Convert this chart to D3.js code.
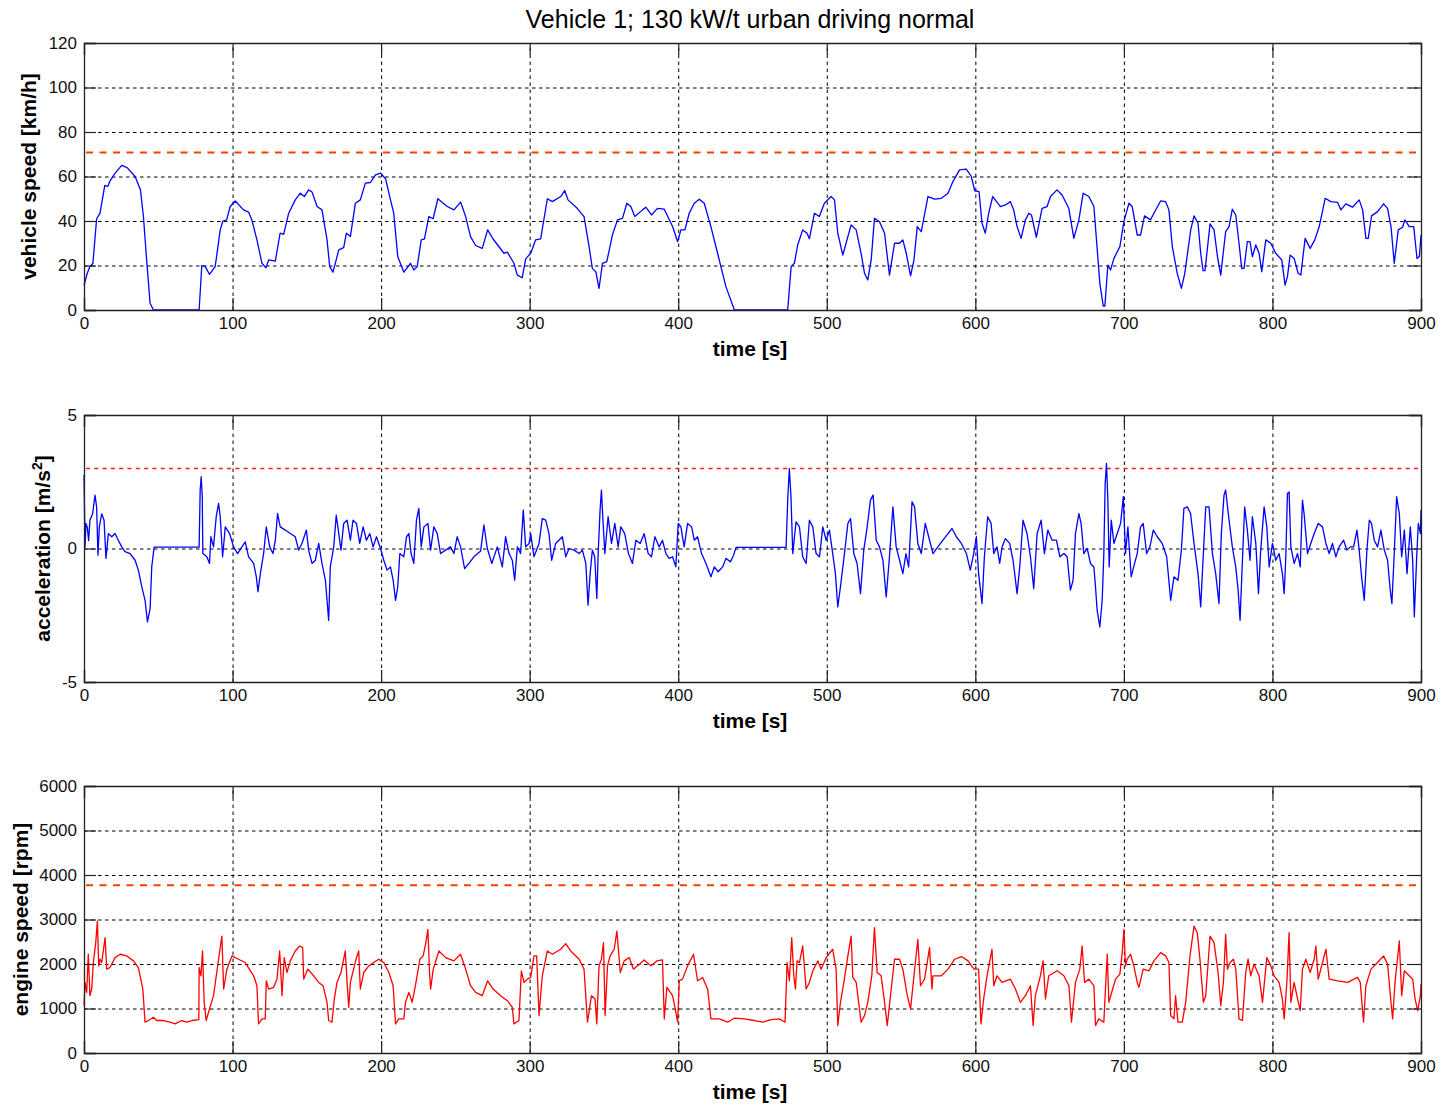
<!DOCTYPE html>
<html>
<head>
<meta charset="utf-8">
<script src="https://cdn.jsdelivr.net/npm/d3@7"></script>
<style>
  body { margin: 0; background: #fff; }
  svg { display: block; font-family: "Liberation Sans", Arial, sans-serif; }
  .tick text { font-size: 17px; fill: #111; }
  .axis-label { font-size: 21px; font-weight: bold; fill: #000; }
  .title { font-size: 25px; fill: #000; }
</style>
</head>
<body>
<div class="container"></div>
<script>
// time axis ticks (s)
const timeTicks = [0, 100, 200, 300, 400, 500, 600, 700, 800, 900];

// vehicle speed [km/h]
const speedTicks = [0, 20, 40, 60, 80, 100, 120];
const speedLimit = 70.8;
const speedTime = [0, 2.2, 4, 6, 8.5, 10.8, 14, 16, 17.5, 21, 25.4, 29, 34.4, 38, 40, 42, 44.5, 46.7,
  77.5, 79.3, 81.6, 84.5, 88.3, 91.7, 93.5, 96, 98.4, 101.8, 107.4, 110.8, 113, 116.4, 119.8, 122.5,
  124.3, 128.8, 132, 134.4, 137.8, 142.2, 145.6, 148.3, 151.2, 153.5, 156.9, 160.2, 163.6, 165.4,
  167.6, 171.5, 174.8, 176.6, 179.3, 182.7, 186, 189.4, 192.8, 196.2, 199.6, 203, 206.3, 208.5,
  211.2, 215.3, 219.8, 222, 224.3, 227, 229.2, 232.1, 235, 238.2, 244.5, 249, 253.5, 256.9, 260.2,
  263.6, 268.1, 271.7, 275.5, 282.7, 285, 289.4, 291.7, 295, 297.3, 300.7, 304, 307.4, 311.9, 315.3,
  320.9, 323.6, 325.8, 332, 336.6, 340, 342.2, 344.5, 346.7, 349, 351.9, 355.7, 359.1, 362.5, 365.4,
  368.1, 370.8, 376, 378.2, 382, 386, 390.6, 396.2, 399.6, 401.8, 404.5, 407.4, 410.8, 414.2, 417.5,
  422, 426.5, 432.1, 437.8, 473.7, 476, 478.2, 480.4, 483.8, 486.7, 488.3, 491.7, 495, 498.4, 502.9,
  505.2, 507.4, 510.8, 514.2, 516.4, 519.8, 523.1, 525.4, 527.6, 529.9, 532.1, 535.5, 538.9, 542.2,
  545.6, 549, 551.2, 553.5, 556.4, 558.7, 560.9, 563.6, 568.1, 572.6, 577.1, 581.6, 584.9, 589.4,
  593.9, 597.3, 599.6, 602.5, 604.5, 606.7, 609, 611.7, 616.9, 620.2, 623.6, 625.8, 628.1, 630.8,
  633.7, 636, 637.8, 641.1, 644.9, 648.3, 650.6, 655, 658.4, 662.9, 666.3, 669.7, 672.6, 676.4,
  679.8, 682, 683.8, 686.1, 687.2, 689.2, 691, 693.3, 697.3, 700, 703.4, 705.6, 709, 711.2, 713.9,
  717.9, 720.2, 724.7, 728.1, 730.3, 732.6, 735.9, 738.7, 741, 745, 747.2, 749.9, 751.7, 753.3,
  754.6, 758, 760.7, 763, 765.2, 768.5, 770.8, 773, 775.3, 777.5, 779.3, 780.9, 783.1, 784.9, 786.5,
  788.8, 791, 792.8, 795.5, 798.9, 802.2, 806.3, 808.5, 810.1, 811.9, 814.6, 817.3, 819.1, 822,
  825.4, 828.5, 831.5, 835.5, 839.3, 843.8, 846.1, 849.4, 853.9, 858.4, 860.7, 862.9, 864.5, 866.7,
  870.8, 874.8, 877.5, 879.8, 882, 884.7, 887.6, 889.2, 892.1, 895.1, 897.3, 898.9, 900];
const speedKmh = [11, 16.5, 19.5, 21, 41, 43.5, 56, 55.5, 58, 61.5, 65, 64, 60, 54, 42, 24, 3, 0,
  0, 20, 19.5, 16, 19.5, 36, 40, 40.5, 46.5, 49, 45, 44, 40.5, 31.5, 21, 19,
  22.5, 22, 34.5, 34, 43.5, 49.5, 52.5, 51, 54, 53, 46.5, 45, 31.5, 19.5,
  17, 27, 28, 34.5, 33, 48, 49.5, 57, 57.3, 60.7, 61.5, 59, 49.5, 43.5,
  24, 17, 21, 18, 19.5, 31.5, 32, 42, 41, 50, 46.5, 45, 48.5, 42, 33,
  29, 27.7, 36, 31.8, 25.5, 26, 21, 15.7, 14.5, 23, 25.5, 31.5, 32, 50, 48.7,
  51, 53.7, 49.5, 45.7, 42, 28.5, 18.7, 17.2, 9.7, 21, 21.7, 33.7, 40.5, 41.2, 48,
  46.5, 42, 45, 46.2, 42.7, 45.7, 45.3, 37.5, 30.7, 36, 36, 43.5, 48, 49.8, 48,
  37.5, 25.5, 10.5, 0, 0, 19.5, 21, 29.2, 36, 34.5, 32, 43.5, 42, 48, 51,
  49.5, 34.5, 24.7, 33, 38.2, 36, 25.5, 16.5, 13.5, 22.5, 41.2, 39.7, 34.5, 15.7,
  30, 30, 31.5, 25.5, 15.3, 22.5, 37.5, 35.2, 51, 49.8, 50.2, 52.5, 57.7, 63,
  63.3, 60, 53.6, 53.2, 39, 34.5, 43.5, 51, 46.5, 47.2, 48.7, 45, 37.5, 32.2,
  40.5, 43.5, 42.7, 32.7, 45.7, 46.5, 51, 54, 51.7, 45.7, 32.2, 40.5, 52.5, 51,
  46.5, 27.7, 12, 1.8, 1.8, 20.2, 18, 23.2, 28.5, 39.7, 48, 46.5, 33.7, 33.7, 42.3,
  40.5, 43.5, 49, 48.7, 45, 28.5, 16.5, 9.7, 16.5, 36, 42.3, 39, 25.5, 17.7,
  17.7, 38.7, 36, 24, 15.7, 35.2, 37.5, 45.3, 42.7, 30, 18.7, 18.7, 30.7, 30.7, 24,
  29.2, 25.5, 17.2, 31.5, 30, 25.5, 22.5, 11.2, 15, 24.7, 23.2, 16.5, 15.7, 32.2,
  27.7, 31.5, 37.5, 50.2, 48.7, 48.4, 45, 47.7, 46.2, 49.5, 45, 32.2, 32.2, 42.3,
  44.2, 47.7, 45.7, 37.5, 21, 36, 37.2, 40.5, 37.5, 37.5, 23.2, 24, 33.7];

// acceleration [m/s^2]
const accTicks = [-5, 0, 5];
const accLimit = 3;
const accTime = [0, 0.7, 1.3, 2.2, 3.1, 4, 5.8, 7.4, 8.5, 9.4, 10.3, 11.9, 13.5, 14.8, 16.4, 18.7,
  20.9, 23.1, 25.4, 27.6, 31, 34.4, 36.6, 38.9, 41.1, 42.7, 44.5, 45.6, 47.2, 77.5, 78.2, 78.9, 79.6,
  80, 82.7, 84.5, 85.4, 87.2, 89, 90.6, 91.7, 93.3, 95.1, 98, 100.7, 103.4, 106.3, 108.5, 110.8,
  114.2, 116, 117.1, 118.7, 120.9, 122.7, 125, 127.2, 128.8, 130.3, 132.1, 135.5, 138.9, 142.2,
  144.5, 146.7, 149.7, 151.2, 153.5, 155.7, 158, 160.2, 162.5, 163.6, 164.7, 165.8, 168.1, 169.8,
  171.5, 173, 174.8, 177.1, 179.3, 181.1, 183.4, 185.6, 187.9, 190.1, 192.4, 194.6, 196.9, 199.6,
  201.8, 204, 206.3, 208.1, 209.7, 211.2, 212.6, 215.3, 217.1, 218.7, 220.2, 222, 223.8, 225.4,
  227, 228.8, 231.5, 233.3, 235.5, 237.8, 240, 243.4, 246.7, 249, 251.2, 253.5, 256.2, 259.1,
  262.5, 267, 269.2, 271.5, 274.5, 278.2, 281.6, 283.8, 286.1, 288.3, 289.9, 291.7, 293.9, 295.7,
  297.3, 299.6, 300.7, 302.9, 306.3, 308.5, 310.8, 313, 314.8, 317.5, 322, 324.3, 326.5, 329.9,
  333.3, 335.5, 337.8, 339.3, 340.7, 342.2, 343.8, 345.2, 346.1, 347.4, 348.3, 349.2, 350.6, 352.8,
  355.1, 357.3, 359.6, 361.3, 364, 366.5, 369.2, 371.5, 374.4, 377.1, 379.8, 382, 384.3, 387.2,
  389.4, 391.7, 393.9, 396.2, 398.4, 400, 401.8, 404, 406.3, 409, 410.8, 413, 415.7, 418.7, 422,
  424.3, 426.9, 429.9, 432.1, 435.1, 437.3, 438.9, 472.6, 473.7, 474.8, 475.9, 477.1, 479.3, 481.6,
  483.8, 486.1, 488.3, 490.6, 492.8, 495.1, 497.3, 499.6, 501.8, 504, 505.8, 507.4, 509.2, 511.9,
  514.2, 516, 518.2, 520.4, 522.7, 524.9, 527.2, 529.4, 531.2, 533.3, 535.5, 537.8, 540, 542.2,
  544.5, 546.7, 549, 551.2, 553.3, 555.1, 557.4, 559.1, 561.3, 563.6, 566.3, 569.2, 571.5, 574.8,
  578.2, 581.6, 584.3, 587.2, 590.6, 594, 596.6, 598.9, 600.7, 602.2, 604.5, 606.1, 608.3, 610.6,
  612.4, 614.6, 616.4, 618, 620.2, 623.1, 625.4, 628.1, 629.9, 632.1, 634.8, 637.1, 639.3, 641.6,
  644.3, 646.5, 648.8, 651.7, 654.6, 656.9, 659.6, 661.8, 664, 665.8, 667.4, 669.7, 671.2, 673,
  675.3, 677.5, 679.8, 680.9, 682, 683.8, 685.4, 686.5, 687.4, 688.3, 689.2, 690.1, 691.5, 693.3,
  695.5, 697.8, 699.6, 701.1, 702.7, 704.9, 707.2, 709, 711.2, 713, 715.3, 717.5, 719.8, 722.5,
  725.8, 728.8, 731.5, 733.7, 736.4, 738.7, 740.4, 742.7, 744.9, 747.2, 749.9, 751.7, 753.5, 755.1,
  757.3, 759.6, 761.8, 764, 765.6, 767.4, 768.5, 770.8, 773, 775.3, 776.9, 778.2, 779.8, 781.3,
  783.1, 784.9, 786.5, 788.8, 790.6, 792.1, 794.4, 796.2, 797.8, 800, 802.2, 804.5, 806.7, 807.9,
  809, 810.1, 811.2, 812.4, 814.6, 816.9, 818.7, 820.2, 821.3, 823.6, 825.8, 828.1, 830.8, 833.7,
  836, 838.2, 840.4, 842.7, 844.9, 847.9, 850.1, 852.4, 854.6, 856.9, 858.4, 860, 861.8, 863.6,
  865.2, 866.7, 868.5, 870.8, 873, 875.3, 877.5, 879.3, 880.4, 882, 883.6, 885.4, 887, 888.8, 890.6,
  892.8, 894.4, 895.5, 897.1, 898.2, 899.6, 900];
const accMs2 = [2.75, 0.06, 0.94, 0.8, 0.3, 1.06, 1.3, 2.0, 1.56, -0.25, 0.8, 1.3, 1.06, -0.37, 0.56, 0.44,
  0.56, 0.31, 0.06, -0.12, -0.19, -0.44, -0.81, -1.44, -1.94, -2.75, -2.25, -0.69, 0.05, 0.05, 2.19, 2.69, 1.94,
  -0.19, -0.31, -0.56, 0.44, 0.06, 1.19, 1.69, 1.19, -0.31, 0.81, 0.56, 0.06, -0.19, 0.06, 0.25, -0.31,
  -0.56, -1.06, -1.62, -0.94, -0.19, 0.81, 0.06, -0.19, 0.31, 1.31, 0.81, 0.69, 0.56, 0.44,
  -0.06, 0.19, 0.69, -0.06, -0.56, -0.44, 0.19, -0.56, -1.19, -1.94, -2.69, -0.69, 0.06, 1.25,
  0.56, -0.06, 0.94, 1.06, 0.31, 1.06, 0.94, 0.19, 0.81, 0.31, 0.56, 0.06, 0.44, 0,
  -0.44, -0.81, -0.69, -1.19, -1.94, -1.44, -0.19, -0.31, 0.44, 0.56, -0.19, -0.56, 1.06, 1.5,
  0.06, 0.81, 0.94, -0.06, 0.81, 0.56, -0.19, -0.06, 0.06, -0.19, 0.44, 0.06, -0.75, -0.56,
  -0.31, -0.09, 0.88, 0.0, -0.56, 0.06, -0.69, 0.44, -0.19, -0.44, -1.19, 0.06, -0.19, 1.44,
  0.06, 0.19, 0.56, -0.31, 0.19, 1.12, 1.06, 0.56, -0.44, 0.19, 0.44, -0.31, 0, -0.06,
  -0.19, -0.06, -0.56, -2.12, -0.94, -0.06, -0.31, -1.87, -0.19, 1.44, 2.19, 1.19, -0.19, 1.19,
  0.19, 0.94, 0.06, 0.81, 0.56, -0.19, -0.56, 0.31, 0.19, 0.56, -0.19, -0.31, 0.44, 0.06,
  0.31, -0.19, -0.37, -0.31, -0.69, 0.94, 0.81, 0.06, 0.94, 0.81, 0.31, 0.44, -0.19, -0.56, -1.06,
  -0.69, -0.87, -0.69, -0.37, -0.5, -0.25, 0.04, 0.04, 1.81, 3.0, 1.94, -0.19, 1.0, 0.81,
  -0.31, -0.56, 1.06, 0.81, -0.19, -0.31, 0.81, 0.31, 0.69, -0.19, -0.94, -2.19, -1.44, -0.19,
  0.94, 1.12, -0.19, -0.56, -1.69, -0.06, 0.81, 1.81, 2.0, 0.31, 0.06, -0.44, -1.81, -0.31,
  1.56, 0.06, -0.44, -0.94, -0.19, -0.69, 1.75, 1.56, 0.19, -0.19, 0.94, 0.31, -0.19, 0.06,
  0.31, 0.56, 0.75, 0.44, 0.19, -0.19, -0.81, -0.19, 0.44, -0.94, -2.06, -0.31, 1.19, 0.94,
  -0.19, 0.06, -0.56, 0.06, 0.37, 0.19, -0.44, -1.69, -0.69, 1.06, 0.56, -0.31, -1.5, 0.56,
  1.06, -0.19, 0.69, 0.31, 0.31, -0.31, -0.19, -0.31, -1.56, -1.19, 0.56, 1.31, 0.94, -0.19,
  0, -0.56, -0.69, -1.44, -2.31, -2.94, -1.94, -0.19, 2.44, 3.19, 1.81, -0.69, 1.06, 0.19,
  0.56, 0.94, 1.94, -0.19, 0.81, -1.06, -0.56, -0.19, 0.81, 0.94, -0.19, 0.06, 0.69, 0.44,
  0.19, -0.31, -1.94, -1.06, -1.19, -0.06, 1.5, 1.56, 1.31, 0.19, -0.94, -2.19, -0.19, 1.56,
  1.56, -0.19, -0.94, -2.06, 0.56, 2.0, 2.19, 1.06, 0.06, -0.69, -1.56, -2.69, -0.44, 1.56,
  0.69, -0.44, 1.19, 0.19, -1.69, -0.06, 1.56, 0.81, -0.69, 0.19, -0.44, -0.19, -0.94, -1.69,
  -0.31, 2.06, 2.12, 0.06, -0.56, -0.19, -0.69, 1.81, 1.31, -0.19, 0.19, 0.56, 0.94, 0.81,
  0.19, -0.19, 0.19, -0.31, 0.06, 0.31, -0.06, 0.06, 0.06, 0.69, -0.06, -1.06, -1.94, -0.06,
  1.06, 0.94, 0.31, 0.06, 0.69, -0.06, -0.44, -1.56, -2.06, -0.19, 1.94, 1.31, -0.31, 0.69, -0.94,
  0.81, -0.44, -2.56, -0.31, 0.94, 0.56, 1.44];

// engine speed [rpm]
const rpmTicks = [0, 1000, 2000, 3000, 4000, 5000, 6000];
const rpmLimit = 3770;
const rpmTime = [0, 0.7, 1.8, 2.9, 4, 5.2, 6.3, 7.9, 9, 9.9, 10.8, 11.9, 14.2, 15.3, 17.5, 20.9, 24.3,
  28.8, 33.3, 36.6, 39.6, 41.1, 43.4, 46.7, 49, 53.5, 58, 61.3, 65.8, 69.2, 72.6, 77.3, 77.5, 78.7,
  79.8, 80.9, 82.2, 84.5, 87.2, 90.6, 92.8, 94, 96.2, 99.6, 104, 108.5, 114.2, 116.4, 117.5, 119.8,
  122, 122.7, 124.3, 127.6, 129.9, 131.7, 133.3, 134.8, 136.6, 138.9, 142.2, 145.2, 147.2, 147.9,
  150.6, 154.6, 158, 160.9, 163.6, 164.7, 166.9, 168.5, 170.3, 173, 175.9, 177.1, 178.2, 179.3,
  183.4, 184.9, 186, 188.3, 191.7, 195, 198.4, 201.8, 205.2, 208.1, 209.7, 211.9, 215.3, 216.4,
  218.7, 220.9, 223.1, 226.1, 228.3, 229.9, 231.5, 232.6, 233.3, 235.1, 238.9, 243.4, 249, 253.5,
  256.9, 260.2, 263.6, 268.1, 271.7, 275.4, 280.4, 285, 288.3, 289.4, 292.8, 294.4, 296.2, 298.4,
  300.7, 302.9, 304.7, 306.3, 308.5, 311.9, 315.3, 320.9, 324.3, 327.6, 333.3, 336.6, 338.9, 341.6,
  344, 345.2, 346.7, 348.3, 349.7, 350.8, 352.4, 354.2, 356.9, 358.7, 361, 363.6, 367, 369.9, 372.6,
  377.1, 381.6, 385.6, 389.4, 390.6, 392.4, 396.2, 398.4, 399.6, 400.7, 402.9, 406.3, 410.3, 413,
  416.4, 419.8, 422, 427.6, 433.3, 437.8, 444.5, 451.2, 456.9, 462.5, 468.1, 471.9, 473.3, 474.8,
  476.4, 477.8, 478.9, 480, 481.6, 483.8, 486.1, 488.3, 490.6, 494, 496.2, 499.6, 504, 506.3, 507.4,
  509.2, 511.5, 514.2, 516.4, 517.5, 519.8, 523.1, 525.4, 527.6, 530.3, 532.1, 533.9, 536.6, 538.9,
  540.7, 542.9, 545.6, 549, 551.2, 554.2, 556.4, 558.7, 561.3, 563.1, 565.8, 569.2, 570.8, 571.5,
  577.1, 581.6, 586.1, 590.6, 595.1, 599.1, 602.2, 603.8, 605.6, 607.9, 611.2, 612.4, 614.6, 618,
  623.6, 627, 630.3, 633.7, 637.1, 638.9, 640.4, 643.8, 645.6, 647.2, 649.4, 655.1, 659.6, 663,
  664.7, 667.4, 670.3, 671.9, 673.5, 676.4, 679.8, 680.9, 683.1, 686.5, 687.6, 688.8, 689.9, 692.1,
  694.4, 697.3, 698.9, 700, 701.1, 702.2, 704.5, 706.7, 709, 710.1, 713, 716.9, 720.2, 724.7, 728.1,
  730.3, 731.5, 733.7, 734.8, 736.4, 739.3, 741.6, 744.5, 747.2, 749.4, 751.2, 753.5, 755.1, 758,
  760.7, 763.4, 765.2, 767, 768.5, 769.7, 771.5, 773.7, 775.3, 777.5, 779.8, 782, 783.6, 785.4,
  787.6, 791, 793.3, 796.2, 798.9, 801.1, 804.5, 806.7, 807.9, 809.7, 811.2, 812.4, 814.6, 816.9,
  818.7, 820.2, 822.5, 825.4, 828.1, 829.2, 830.8, 833.7, 836, 838.2, 843.8, 850.6, 857.3, 859.1,
  861.3, 862.9, 866.3, 870.8, 874.8, 877.5, 879.8, 880.9, 882.5, 885.4, 887, 888.8, 892.1, 894.4,
  896, 897.8, 899.6, 900];
const rpmVal = [1065, 1586, 1363, 2219, 1288, 1437, 2033, 2480, 2964, 1958, 2107, 2033, 2591, 1884, 1921, 2144, 2219,
  2182, 2070, 1921, 1437, 692, 730, 804, 730, 730, 692, 655, 730, 692, 730, 752, 1921, 1735,
  2293, 1139, 730, 990, 1288, 2107, 2628, 1437, 1884, 2182, 2107, 2033, 1735, 1512, 655, 767,
  767, 1623, 1437, 1474, 1660, 2293, 1288, 2144, 1809, 2070, 2293, 2405, 2368, 1660,
  1884, 1735, 1586, 1512, 1139, 730, 692, 1214, 1586, 1809, 2293, 1586, 1028, 1586,
  2144, 2293, 1437, 1809, 1958, 2033, 2107, 2033, 1809, 1512, 655, 767, 767, 1139,
  1363, 1139, 1512, 2107, 2182, 2442, 2777, 1809, 1437, 1884, 2293, 2144, 2070, 2219,
  1884, 1512, 1363, 1288, 1623, 1437, 1288, 1176, 1028, 655, 730, 1847, 1586, 1660,
  1698, 2182, 2182, 841, 1735, 2293, 2219, 2331, 2457, 2293, 2107, 1884, 692, 1288,
  1214, 655, 1958, 2107, 2480, 841, 1958, 2182, 2331, 2740, 1809, 2070, 2144, 1884, 1958,
  2092, 1958, 2070, 2092, 767, 1474, 1288, 916, 692, 1623, 1660, 1958, 2219, 1623,
  1698, 1437, 767, 767, 692, 782, 767, 730, 692, 752, 767, 692, 2033, 1623,
  2591, 1735, 1437, 2070, 2033, 2405, 1437, 1586, 1847, 2070, 1884, 2144, 2331, 1884, 618,
  1139, 1586, 2182, 2628, 1698, 1586, 692, 841, 1139, 1735, 2815, 1809, 1735, 1139,
  618, 1288, 2107, 2107, 1884, 1288, 990, 1735, 2554, 1512, 1660, 2368, 1437, 1735,
  1735, 1884, 2107, 2167, 2070, 1884, 1884, 655, 1214, 1735, 2331, 1512, 1735, 1586,
  1660, 1437, 1139, 1288, 1512, 618, 1288, 1735, 2070, 1214, 1735, 1847, 1735, 1512,
  692, 1586, 1884, 2405, 1586, 1660, 1512, 618, 767, 692, 1437, 2219, 1139, 1400,
  1660, 1772, 2256, 2777, 1958, 2107, 2219, 1958, 1586, 1474, 1884, 1847, 2070, 2256, 2182,
  2033, 841, 767, 1288, 692, 692, 1139, 2182, 2852, 2703, 2107, 1139, 1288, 2628,
  2480, 1809, 1065, 1586, 2666, 1884, 2033, 2107, 1884, 767, 730, 1809, 2107, 1735,
  1996, 1735, 1139, 2144, 1958, 1735, 1586, 1214, 767, 1586, 2703, 1139, 1586, 1214,
  953, 1884, 2107, 1809, 2107, 2405, 1660, 2033, 2331, 1660, 1623, 1586, 1698, 1586,
  692, 1512, 1884, 2033, 2182, 1996, 1139, 767, 1586, 2517, 1288, 1847, 1735, 1660,
  1214, 953, 1288, 1549];

const width = 1441;
const height = 1106;
const plotLeft = 84;
const plotRight = 1421;
const plotH = 267;

const panels = [
  { top: 43, domain: [0, 120], ticks: speedTicks, time: speedTime, values: speedKmh,
    color: "#0000ff", limit: speedLimit, limitColor: "#ff3c00", limitDash: "7,6.5", limitWidth: 2,
    label: "vehicle speed [km/h]", labelX: 29 },
  { top: 415, domain: [-5, 5], ticks: accTicks, time: accTime, values: accMs2,
    color: "#0000ff", limit: accLimit, limitColor: "#ff1a1a", limitDash: "4,4.3", limitWidth: 1.5,
    label: "acceleration", labelX: 43 },
  { top: 786, domain: [0, 6000], ticks: rpmTicks, time: rpmTime, values: rpmVal,
    color: "#ff0000", limit: rpmLimit, limitColor: "#ff3c00", limitDash: "7,6.5", limitWidth: 2,
    label: "engine speed [rpm]", labelX: 21 }
];

const svg = d3.select(".container")
  .append("svg")
  .attr("width", width)
  .attr("height", height);

svg.append("text")
  .attr("class", "title")
  .attr("x", 750)
  .attr("y", 28)
  .attr("text-anchor", "middle")
  .text("Vehicle 1; 130 kW/t urban driving normal");

const x = d3.scaleLinear().domain([0, 900]).range([plotLeft, plotRight]);

panels.forEach((p, i) => {
  const y = d3.scaleLinear().domain(p.domain).range([p.top + plotH, p.top]);
  const g = svg.append("g").attr("class", "panel-" + i);
  const bottom = p.top + plotH;

  // grid lines
  g.append("g")
    .attr("transform", `translate(0, ${bottom})`)
    .call(d3.axisBottom(x).tickValues(timeTicks).tickSize(-plotH).tickFormat(""))
    .call(a => a.select(".domain").remove())
    .call(a => a.selectAll("line").attr("stroke", "#000").attr("stroke-dasharray", "3.5,3.5"));
  g.append("g")
    .attr("transform", `translate(${plotLeft}, 0)`)
    .call(d3.axisLeft(y).tickValues(p.ticks).tickSize(-(plotRight - plotLeft)).tickFormat(""))
    .call(a => a.select(".domain").remove())
    .call(a => a.selectAll("line").attr("stroke", "#000").attr("stroke-dasharray", "3.5,3.5"));

  // limit line
  g.append("line")
    .attr("x1", x(0) + 2)
    .attr("x2", x(898))
    .attr("y1", y(p.limit))
    .attr("y2", y(p.limit))
    .attr("stroke", p.limitColor)
    .attr("stroke-width", p.limitWidth)
    .attr("stroke-dasharray", p.limitDash);

  // data line
  const line = d3.line()
    .x((d, j) => x(p.time[j]))
    .y(d => y(d));
  g.append("path")
    .datum(p.values)
    .attr("d", line)
    .attr("fill", "none")
    .attr("stroke", p.color)
    .attr("stroke-width", 1.3)
    .attr("stroke-linejoin", "round");

  // axes with inside ticks and labels
  const tickLen = 12;
  g.append("g")
    .attr("transform", `translate(0, ${bottom})`)
    .call(d3.axisBottom(x).tickValues(timeTicks).tickSize(-tickLen).tickPadding(7)
      .tickFormat(d => String(d)));
  g.append("g")
    .attr("transform", `translate(0, ${p.top})`)
    .call(d3.axisTop(x).tickValues(timeTicks).tickSize(-tickLen).tickFormat(""));
  g.append("g")
    .attr("transform", `translate(${plotLeft}, 0)`)
    .call(d3.axisLeft(y).tickValues(p.ticks).tickSize(-tickLen).tickPadding(7)
      .tickFormat(d => String(d)));
  g.append("g")
    .attr("transform", `translate(${plotRight}, 0)`)
    .call(d3.axisRight(y).tickValues(p.ticks).tickSize(-tickLen).tickFormat(""));

  g.selectAll(".domain").attr("stroke", "#222").attr("stroke-width", 1.3);
  g.selectAll(".tick line").filter(function() {
    return !this.getAttribute("stroke-dasharray");
  }).attr("stroke", "#222").attr("stroke-width", 1.2);
  g.selectAll(".tick text").attr("fill", "#111").style("font-size", "17px");

  // x label
  g.append("text")
    .attr("class", "axis-label")
    .attr("x", 750)
    .attr("y", bottom + 46)
    .attr("text-anchor", "middle")
    .text("time [s]");

  // y label
  const yl = g.append("text")
    .attr("class", "axis-label")
    .attr("transform", `translate(${p.labelX}, ${p.top + plotH / 2}) rotate(-90)`)
    .attr("text-anchor", "middle")
    .attr("dy", "0.35em")
    .text(p.label);
  if (i === 1) {
    yl.append("tspan").text(" [m/s");
    yl.append("tspan").attr("baseline-shift", "super").style("font-size", "14px").text("2");
    yl.append("tspan").text("]");
  }
});
</script>
</body>
</html>
